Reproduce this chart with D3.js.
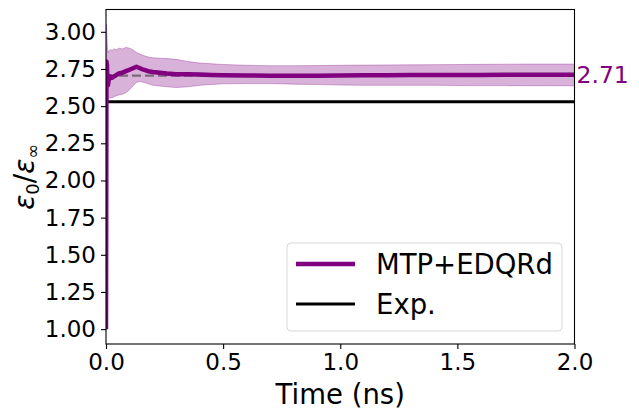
<!DOCTYPE html>
<html>
<head>
<meta charset="utf-8">
<script src="https://cdn.jsdelivr.net/npm/d3@7"></script>
<style>
body { margin: 0; background: #fff; }
text { font-family: "DejaVu Sans", sans-serif; fill: #000; }
</style>
</head>
<body>
<svg class="chart" width="639" height="409"></svg>
<script>
// time in ns
var time = [0, 0.002, 0.004, 0.006, 0.008, 0.012, 0.018, 0.025, 0.035, 0.045, 0.055, 0.07, 0.085, 0.10, 0.115, 0.13, 0.145, 0.16, 0.18, 0.20, 0.23, 0.26, 0.30, 0.35, 0.40, 0.45, 0.50, 0.6, 0.7, 0.8, 0.9, 1.0, 1.1, 1.2, 1.3, 1.4, 1.5, 1.6, 1.7, 1.8, 1.9, 2.0];
var meanVals = [1.00, 2.80, 2.78, 2.66, 2.64, 2.68, 2.70, 2.69, 2.70, 2.71, 2.72, 2.725, 2.735, 2.745, 2.755, 2.765, 2.755, 2.745, 2.735, 2.73, 2.725, 2.72, 2.715, 2.715, 2.712, 2.71, 2.708, 2.706, 2.705, 2.705, 2.705, 2.706, 2.707, 2.708, 2.709, 2.71, 2.71, 2.71, 2.711, 2.711, 2.711, 2.711];
var upperVals = [1.00, 3.05, 2.98, 2.90, 2.86, 2.87, 2.88, 2.875, 2.885, 2.88, 2.89, 2.885, 2.895, 2.89, 2.88, 2.86, 2.85, 2.84, 2.83, 2.825, 2.822, 2.82, 2.815, 2.80, 2.79, 2.785, 2.78, 2.775, 2.772, 2.772, 2.773, 2.775, 2.776, 2.777, 2.778, 2.779, 2.780, 2.781, 2.782, 2.783, 2.783, 2.783];
var lowerVals = [1.00, 2.45, 2.50, 2.52, 2.54, 2.55, 2.56, 2.555, 2.565, 2.57, 2.575, 2.58, 2.59, 2.61, 2.635, 2.66, 2.665, 2.66, 2.65, 2.64, 2.635, 2.63, 2.625, 2.63, 2.64, 2.645, 2.65, 2.652, 2.652, 2.648, 2.645, 2.642, 2.64, 2.64, 2.64, 2.64, 2.639, 2.638, 2.638, 2.637, 2.637, 2.637];
var expValue = 2.53,
	finalMean = 2.71;
var xTicks = [0, 0.5, 1.0, 1.5, 2.0];
var yTicks = [1.00, 1.25, 1.50, 1.75, 2.00, 2.25, 2.50, 2.75, 3.00];
var legendNames = ["MTP+EDQRd", "Exp."];

var margin = {top: 9.5, left: 106, right: 64.5, bottom: 65};
var width = 639 - margin.left - margin.right,
	height = 409 - margin.top - margin.bottom;

var purple = "#800080";

var x = d3.scaleLinear().domain([0, 2]).range([0, width]);
var y = d3.scaleLinear().domain([0.9, 3.15]).range([height, 0]);

var chart = d3.select(".chart");
var g = chart.append("g")
	.attr("transform", "translate(" + margin.left + "," + margin.top + ")");

var data = time.map(function(t, i) {
	return {t: t, mean: meanVals[i], hi: upperVals[i], lo: lowerVals[i]};
});

g.append("defs").append("clipPath").attr("id", "clip")
	.append("rect").attr("width", width).attr("height", height);

var plot = g.append("g").attr("clip-path", "url(#clip)");

// std band
plot.append("path")
	.datum(data)
	.attr("d", d3.area()
		.x(function(d) { return x(d.t); })
		.y0(function(d) { return y(d.lo); })
		.y1(function(d) { return y(d.hi); }))
	.style("fill", purple)
	.style("fill-opacity", 0.3)
	.style("stroke", purple)
	.style("stroke-opacity", 0.3)
	.style("stroke-width", 1);

// converged value
plot.append("line")
	.attr("x1", x(0)).attr("x2", x(2))
	.attr("y1", y(2.705)).attr("y2", y(2.705))
	.style("stroke", "#7a6a7a")
	.style("stroke-width", 2.2)
	.style("stroke-dasharray", "9,4");

plot.append("line")
	.attr("x1", x(0)).attr("x2", x(2))
	.attr("y1", y(expValue)).attr("y2", y(expValue))
	.style("stroke", "#000")
	.style("stroke-width", 3);

plot.append("path")
	.datum(data)
	.attr("d", d3.line()
		.x(function(d) { return x(d.t); })
		.y(function(d) { return y(d.mean); }))
	.style("fill", "none")
	.style("stroke", purple)
	.style("stroke-width", 4.5)
	.style("stroke-linejoin", "round");

// axes
var xAxis = g.append("g")
	.attr("transform", "translate(0," + height + ")")
	.call(d3.axisBottom(x).tickValues(xTicks).tickFormat(d3.format(".1f")).tickSize(5).tickPadding(5));
var yAxis = g.append("g")
	.call(d3.axisLeft(y).tickValues(yTicks).tickFormat(d3.format(".2f")).tickSize(5).tickPadding(5));

[xAxis, yAxis].forEach(function(a) {
	a.select(".domain").remove();
	a.selectAll("line").style("stroke", "#000").style("stroke-width", 1.1);
	a.selectAll("text").style("font-size", "23px").style("font-family", "DejaVu Sans");
});

g.append("rect")
	.attr("width", width)
	.attr("height", height)
	.style("fill", "none")
	.style("stroke", "#000")
	.style("stroke-width", 1.1);

// final value label
g.append("text")
	.attr("x", width + 2)
	.attr("y", y(finalMean))
	.attr("dy", "0.36em")
	.style("font-size", "23.5px")
	.style("fill", purple)
	.text(finalMean.toFixed(2));

g.append("text")
	.attr("x", width / 2)
	.attr("y", height + 60)
	.style("text-anchor", "middle")
	.style("font-size", "27.5px")
	.text("Time (ns)");

var yl = chart.append("text")
	.attr("transform", "translate(34," + (margin.top + height / 2) + ") rotate(-90)")
	.style("text-anchor", "middle")
	.style("font-size", "28px");
yl.append("tspan").style("font-style", "italic").text("ε");
yl.append("tspan").attr("dy", 5).style("font-size", "18px").text("0");
yl.append("tspan").attr("dy", -5).text("/");
yl.append("tspan").style("font-style", "italic").text("ε");
yl.append("tspan").attr("dy", 5).style("font-size", "18px").text("∞");

// legend
var leg = chart.append("g").attr("transform", "translate(287,243)");
leg.append("rect")
	.attr("width", 275)
	.attr("height", 88)
	.attr("rx", 4)
	.style("fill", "#fff")
	.style("fill-opacity", 0.8)
	.style("stroke", "#d6d6d6")
	.style("stroke-width", 1);

var legItem = leg.selectAll(".item")
	.data(legendNames)
	.enter().append("g")
	.attr("transform", function(d, i) { return "translate(0," + (21 + i * 40) + ")"; });

legItem.append("line")
	.attr("x1", 9).attr("x2", 68)
	.style("stroke", function(d, i) { return i == 0 ? purple : "#000"; })
	.style("stroke-width", function(d, i) { return i == 0 ? 4.5 : 3; });

legItem.append("text")
	.attr("x", 89)
	.attr("dy", "0.36em")
	.style("font-size", "27.5px")
	.text(function(d) { return d; });
</script>
</body>
</html>
